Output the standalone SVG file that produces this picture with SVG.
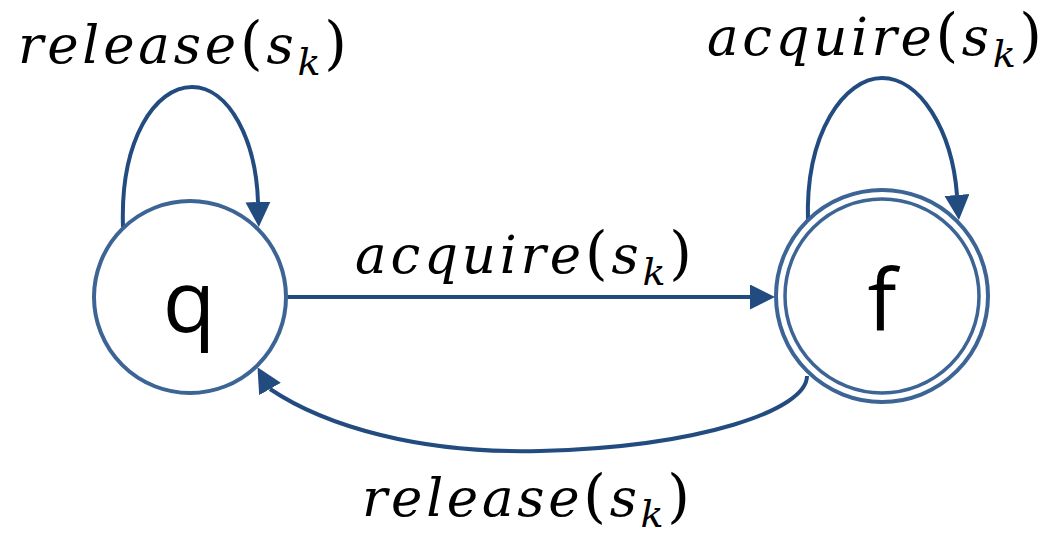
<svg xmlns="http://www.w3.org/2000/svg" width="1045" height="534" viewBox="0 0 1045 534">
<style>
.node{fill:#ffffff;stroke:#3c6494;stroke-width:4}
.ring{fill:none;stroke:#3c6494;stroke-width:3.5}
.nlabel{font-family:"Open Sans","Liberation Sans",sans-serif;font-size:86px;fill:#000;text-anchor:middle}
.edge{fill:none;stroke:#224c80;stroke-width:4}
.lbl{font-family:"DejaVu Serif","Liberation Serif",serif;font-size:53px;font-style:italic;fill:#000}
.par{font-style:normal;font-size:58px}
.sub{font-size:38px}
</style>
<defs>
<marker id="arr" markerUnits="userSpaceOnUse" markerWidth="26" markerHeight="26" refX="0" refY="12.5" orient="auto" viewBox="0 0 26 26">
<path d="M0,0 L25,12.5 L0,25 z" fill="#224c80"/>
</marker>
<marker id="arrQ" markerUnits="userSpaceOnUse" markerWidth="26" markerHeight="26" refX="0" refY="12.5" orient="240" viewBox="0 0 26 26">
<path d="M0,0 L25,12.5 L0,25 z" fill="#224c80"/>
</marker>
</defs>
<g id="connectors">
<path id="q-loop" class="edge" d="M123,227 C120,140 155,87 192,87 C229,87 256,140 258,202" marker-end="url(#arr)"/>
<path id="f-loop" class="edge" d="M808,222 C805,132 845,78 882,78 C920,78 952,130 957,195" marker-end="url(#arr)"/>
<path id="q-to-f" class="edge" d="M288,297 L750,297" marker-end="url(#arr)"/>
<path id="f-to-q" class="edge" d="M807,376 C807,410 700,447 540,451 C420,454 325,426 270,389" marker-end="url(#arrQ)"/>
<text class="lbl" x="18" y="63" textLength="329" lengthAdjust="spacing">release<tspan class="par">(</tspan>s<tspan class="sub" dy="12">k</tspan><tspan class="par" dy="-12">)</tspan></text>
<text class="lbl" x="707" y="55" textLength="335" lengthAdjust="spacing">acquire<tspan class="par">(</tspan>s<tspan class="sub" dy="12">k</tspan><tspan class="par" dy="-12">)</tspan></text>
<text class="lbl" x="355" y="273" textLength="337" lengthAdjust="spacing">acquire<tspan class="par">(</tspan>s<tspan class="sub" dy="12">k</tspan><tspan class="par" dy="-12">)</tspan></text>
<text class="lbl" x="362" y="516" textLength="328" lengthAdjust="spacing">release<tspan class="par">(</tspan>s<tspan class="sub" dy="11">k</tspan><tspan class="par" dy="-11">)</tspan></text>
</g>
<g id="node-q">
<circle class="node" cx="190" cy="297" r="96"/>
<text class="nlabel" x="189" y="332">q</text>
</g>
<g id="node-f">
<circle class="node" cx="882" cy="296" r="106"/>
<circle class="ring" cx="882" cy="296" r="97"/>
<text class="nlabel" x="882" y="331">f</text>
</g>
</svg>
